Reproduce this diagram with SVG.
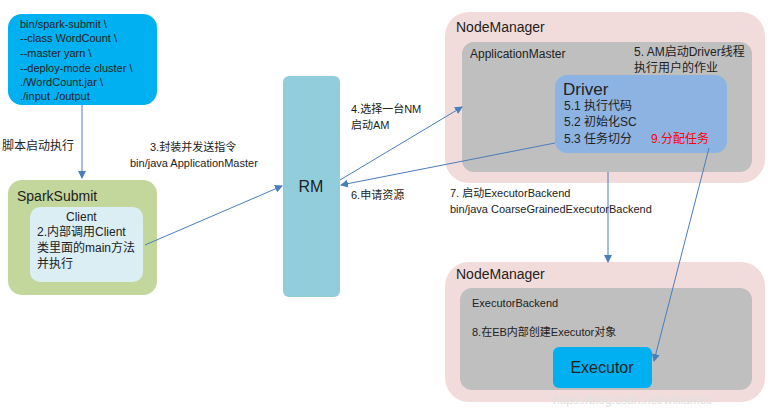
<svg xmlns="http://www.w3.org/2000/svg" width="779" height="415" viewBox="0 0 779 415">
<defs><marker id="a" markerWidth="8" markerHeight="8" refX="7" refY="4" orient="auto" markerUnits="userSpaceOnUse"><path d="M0,0 L8,4 L0,8 z" fill="#4a7ebb"/></marker>
<style>text{font-family:"Liberation Sans","Noto Sans CJK SC",sans-serif;fill:#222}.s{font-size:11px}.m{font-size:12px}.l{font-size:14px}.c{stroke:#4a7ebb;stroke-width:1;fill:none;marker-end:url(#a)}</style></defs>
<rect width="779" height="415" fill="#fff"/>
<g id="submitcmd"><rect x="8" y="14" width="149" height="91" rx="14" fill="#00b0f0"/>
<text class="s" x="20" y="28">bin/spark-submit \</text><text class="s" x="20" y="42">--class WordCount \</text><text class="s" x="20" y="57">--master yarn \</text><text class="s" x="20" y="72">--deploy-mode cluster \</text><text class="s" x="20" y="86">./WordCount.jar \</text><text class="s" x="20" y="100">./input ./output</text></g>
<g id="sparksubmit"><rect x="8" y="180" width="149" height="115" rx="14" fill="#c3d69b"/><text class="l" x="17" y="201">SparkSubmit</text>
<rect x="30" y="207" width="113" height="75" rx="10" fill="#dbeef4"/><text class="m" x="66" y="221">Client</text><text class="m" x="37" y="236">2.内部调用Client</text><text class="m" x="37" y="252">类里面的main方法</text><text class="m" x="37" y="268">并执行</text></g>
<g id="rm"><rect x="283" y="76" width="57" height="221" rx="6" fill="#92cddc"/><text x="311" y="192" font-size="16" text-anchor="middle">RM</text></g>
<g id="nm1"><rect x="445" y="12" width="320" height="171" rx="24" fill="#f2dcdb"/><text class="l" x="456" y="32">NodeManager</text>
<rect x="462" y="42" width="290" height="130" rx="12" fill="#bfbfbf"/><text class="m" x="470" y="58">ApplicationMaster</text>
<text class="m" x="634" y="56">5. AM启动Driver线程</text><text class="m" x="634" y="72">执行用户的作业</text>
<rect x="555" y="75" width="172" height="78" rx="12" fill="#8db3e2"/><text x="563" y="95" font-size="17">Driver</text>
<text class="m" x="564" y="110">5.1 执行代码</text><text class="m" x="564" y="126">5.2 初始化SC</text><text class="m" x="564" y="143">5.3 任务切分</text><text class="m" x="651" y="143" style="fill:#ff0000">9.分配任务</text></g>
<g id="nm2"><rect x="445" y="262" width="320" height="140" rx="24" fill="#f2dcdb"/><text class="l" x="456" y="279">NodeManager</text>
<rect x="460" y="288" width="292" height="102" rx="12" fill="#bfbfbf"/><text class="s" x="472" y="307">ExecutorBackend</text><text class="s" x="472" y="336">8.在EB内部创建Executor对象</text>
<rect x="553" y="347" width="99" height="41" rx="6" fill="#00b0f0"/><text x="602" y="373" font-size="16" text-anchor="middle">Executor</text></g>
<g id="connectors">
<line class="c" x1="82" y1="105" x2="82" y2="178"/>
<line class="c" x1="145" y1="245" x2="282" y2="186"/>
<line class="c" x1="340" y1="180" x2="462" y2="107"/>
<line class="c" x1="555" y1="143" x2="341" y2="185"/>
<line class="c" x1="608" y1="172" x2="608" y2="262"/>
<line class="c" x1="709" y1="148" x2="654" y2="361"/>
</g>
<g id="labels"><text class="m" x="2" y="150">脚本启动执行</text>
<text class="s" x="150" y="151">3.封装并发送指令</text><text class="s" x="130" y="167">bin/java ApplicationMaster</text>
<text class="s" x="351" y="113">4.选择一台NM</text><text class="s" x="351" y="129">启动AM</text>
<text class="s" x="351" y="199">6.申请资源</text>
<text class="s" x="450" y="197">7. 启动ExecutorBackend</text><text class="s" x="450" y="213">bin/java CoarseGrainedExecutorBackend</text>
<text x="553" y="404" font-size="12" style="fill:#e0e0e0">https://blog.csdn.net/williamcc</text></g>
</svg>
